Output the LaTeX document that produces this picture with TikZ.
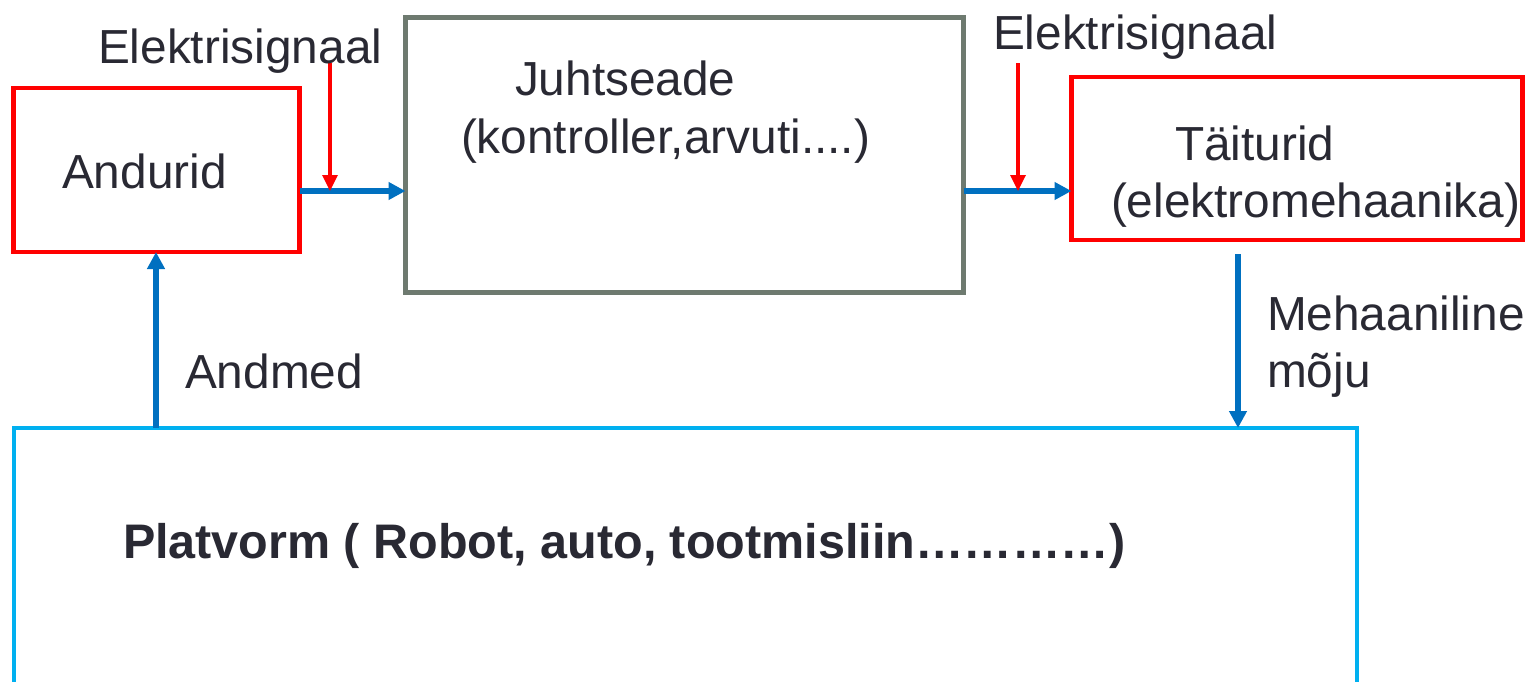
\documentclass[tikz,border=0pt]{standalone}
\usepackage{fontspec}
\setmainfont{Liberation Sans}
\usetikzlibrary{arrows.meta}
\definecolor{txt}{RGB}{41,41,51}
\definecolor{boxred}{RGB}{255,0,0}
\definecolor{boxgray}{RGB}{110,122,112}
\definecolor{arrblue}{RGB}{0,112,192}
\definecolor{platcyan}{RGB}{0,176,240}
\tikzset{
  box/.style={draw, rectangle, inner sep=0pt, outer sep=0pt},
  redbox/.style={box, draw=boxred, line width=4.5pt},
  graybox/.style={box, draw=boxgray, line width=5pt},
  platbox/.style={box, draw=platcyan, line width=4.5pt},
  bluearrow/.style={draw=arrblue, line width=6pt, -{Triangle[length=17pt,width=17pt]}},
  redarrow/.style={draw=boxred, line width=3.3pt, -{Triangle[length=16pt,width=15pt]}},
  lbl/.style={anchor=base west, inner sep=0pt, outer sep=0pt, text=txt,
    font=\fontsize{47.8}{57}\selectfont},
  boldlbl/.style={lbl, font=\fontsize{48.5}{58}\selectfont\bfseries}
}
\begin{document}
\begin{tikzpicture}[x=1pt,y=-1pt]
\useasboundingbox (0,0) rectangle (1527,681);
\clip (0,0) rectangle (1527,681);
\fill[white] (0,0) rectangle (1527,681);
% boxes
\node[redbox, minimum width=286pt, minimum height=164pt] (andurid) at (156.5,170) {};
\node[graybox, minimum width=558pt, minimum height=275pt] (juht) at (684.5,155) {};
\node[redbox, minimum width=451pt, minimum height=163pt] (tait) at (1297,158.5) {};
\node[platbox, minimum width=1343pt, minimum height=372pt] (plat) at (685.5,614) {};
% helper coordinates
\coordinate (lvl) at (0,191);
\coordinate (ax) at (156,0);
\coordinate (r1s) at (330,63);
\coordinate (r1e) at (330,191);
\coordinate (r2s) at (1018,63);
\coordinate (r2e) at (1018,191);
\coordinate (m1) at (1238,254);
% connectors
\draw[bluearrow] (andurid.east |- lvl) -- (juht.west |- lvl);
\draw[bluearrow] (juht.east |- lvl) -- (tait.west |- lvl);
\draw[redarrow] (r1s) -- (r1e);
\draw[redarrow] (r2s) -- (r2e);
\draw[bluearrow] (ax |- plat.north) -- (ax |- andurid.south);
\draw[bluearrow] (m1) -- (m1 |- plat.north);
% labels
\node[lbl] (el1) at (98,63) {Elektrisignaal};
\node[lbl] (el2) at (993,49) {Elektrisignaal};
\node[lbl] (andt) at (62,188) {Andurid};
\node[lbl] (juhtt) at (515,95) {Juhtseade};
\node[lbl] (juhtt2) at (461,153) {(kontroller,arvuti....)};
\node[lbl] (taitt) at (1175,160) {Täiturid};
\node[lbl] (taitt2) at (1111,217) {(elektromehaanika)};
\node[lbl] (andmed) at (185,388) {Andmed};
\node[lbl] (meh) at (1267,330) {Mehaaniline};
\node[lbl] (moju) at (1267,387) {mõju};
\node[boldlbl] (platt) at (123,558) {Platvorm ( Robot, auto, tootmisliin…………)};
\end{tikzpicture}
\end{document}
